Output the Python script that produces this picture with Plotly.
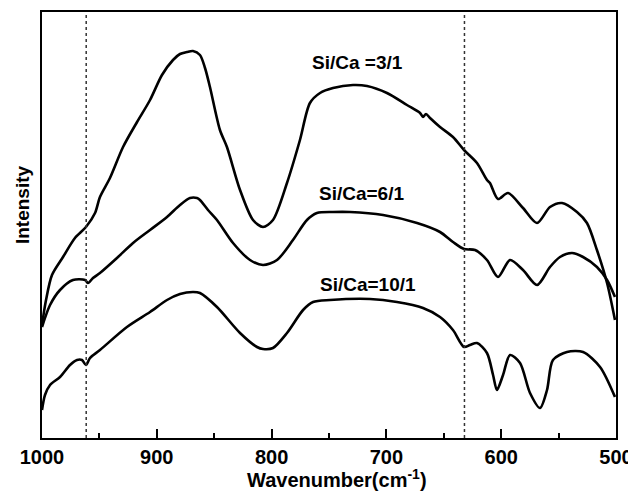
import plotly.graph_objects as go

# Curve Si/Ca = 3/1
wn1 = [1000, 996.5, 991.3, 981.7, 971.3, 961.7, 953.8, 949.5, 940.8, 929.4, 917.2, 905.9, 895.5, 885.9,
       879.8, 873.7, 868.5, 862.4, 858.0, 853.7, 845.0, 838.9, 827.5, 816.2, 807.5, 798.8, 786.6, 775.3,
       766.6, 757.8, 746.5, 729.1, 716.9, 699.5, 682.1, 670.7, 668.1, 665.5, 662.0, 653.3, 642.0, 632.4,
       621.1, 612.4, 609.8, 602.8, 594.1, 581.0, 568.8, 557.5, 547.0, 534.0, 525.3, 516.6, 507.8, 500.9]
i1 = [113, 138, 163, 181, 200, 211, 225, 241, 260, 291, 316, 338, 363, 378,
      384, 386, 387, 383, 370, 351, 308, 291, 248, 218, 211, 218, 255, 298,
      335, 345, 350, 353, 352, 345, 333, 325, 321, 324, 320, 311, 301, 288,
      275, 258, 255, 239, 245, 230, 215, 231, 235, 226, 215, 188, 155, 118]

# Curve Si/Ca = 6/1
wn2 = [1000, 993.0, 984.3, 973.0, 962.5, 959.9, 955.6, 949.5, 934.7, 920.7, 905.9, 891.1, 879.8, 871.1,
       865.0, 862.4, 855.4, 847.6, 833.6, 818.8, 807.5, 795.3, 781.4, 769.2, 760.5, 746.5, 731.7, 702.9,
       673.3, 653.3, 642.0, 632.4, 622.8, 612.4, 602.8, 592.3, 581.0, 568.8, 557.5, 548.8, 538.3, 528.7,
       516.6, 507.8, 500.9]
i2 = [111, 133, 148, 158, 158, 155, 160, 165, 180, 195, 208, 221, 233, 240,
      240, 238, 228, 218, 195, 178, 173, 178, 198, 218, 225, 226, 226, 223,
      215, 206, 196, 189, 188, 178, 161, 178, 168, 153, 171, 181, 185, 181,
      171, 158, 141]

# Curve Si/Ca = 10/1
wn3 = [1000, 997.4, 993.0, 984.3, 975.6, 969.5, 965.2, 961.7, 958.2, 949.5, 926.0, 905.9, 891.1, 879.8,
       868.5, 862.4, 847.6, 827.5, 812.7, 807.5, 798.8, 786.6, 772.6, 763.9, 749.1, 714.3, 690.8, 668.1,
       653.3, 642.0, 632.4, 627.2, 621.1, 612.4, 607.1, 603.7, 598.4, 592.3, 583.6, 574.9, 566.2, 560.1,
       554.9, 542.7, 528.7, 513.9, 500.9]
i3 = [28, 43, 53, 61, 73, 78, 78, 73, 80, 88, 111, 126, 138, 144,
      146, 145, 131, 105, 91, 89, 90, 105, 128, 136, 138, 139, 136, 130,
      121, 108, 91, 93, 95, 85, 63, 48, 63, 83, 75, 45, 30, 48,
      78, 86, 86, 71, 41]

series_names = ["Si/Ca =3/1", "Si/Ca=6/1", "Si/Ca=10/1"]
label_pos_wn = [725.6, 722.1, 716.0]
label_pos_i = [376, 245, 154]
marker_lines = [961.5, 632.0]
x_ticks = [1000, 900, 800, 700, 600, 500]

FONT = "Liberation Sans, Arial, sans-serif"

fig = go.Figure()
for wn, inten, name in zip([wn1, wn2, wn3], [i1, i2, i3], series_names):
    fig.add_trace(go.Scatter(x=wn, y=inten, mode="lines", name=name,
                             line=dict(color="black", width=2.6, shape="spline", smoothing=0.8),
                             showlegend=False))

for xv in marker_lines:
    fig.add_shape(type="line", x0=xv, x1=xv, y0=0, y1=1, xref="x", yref="paper",
                  line=dict(color="#333333", width=1.5, dash="dot"))

for name, xv, yv in zip(series_names, label_pos_wn, label_pos_i):
    fig.add_annotation(x=xv, y=yv, xref="x", yref="y", text=name, showarrow=False,
                       xanchor="center", yanchor="middle",
                       font=dict(family=FONT, size=19, color="black", weight="bold"))

fig.add_annotation(x=0.514, y=-0.096, xref="paper", yref="paper",
                   text="Wavenumber(cm<sup>-1</sup>)", showarrow=False,
                   xanchor="center", yanchor="middle",
                   font=dict(family=FONT, size=20, color="black", weight="bold"))
fig.add_annotation(x=-0.033, y=0.547, xref="paper", yref="paper", text="Intensity",
                   showarrow=False, textangle=-90, xanchor="center", yanchor="middle",
                   font=dict(family=FONT, size=19, color="black", weight="bold"))

# page body has an 8px default margin, so the figure is sized to fit the window
fig.update_layout(
    width=628, height=484,
    margin=dict(l=34, r=20, t=4, b=54, autoexpand=False),
    paper_bgcolor="white", plot_bgcolor="white",
    xaxis=dict(range=[1000, 500], tickvals=x_ticks, ticktext=[str(t) for t in x_ticks],
               ticks="inside", ticklen=9, tickwidth=2, tickcolor="black",
               minor=dict(dtick=50, ticks="inside", ticklen=5, tickwidth=2, tickcolor="black"),
               showline=True, linecolor="black", linewidth=2, mirror=True,
               showgrid=False, zeroline=False, automargin=False,
               tickfont=dict(family=FONT, size=20, color="black", weight="bold")),
    yaxis=dict(range=[0, 426], showticklabels=False, ticks="",
               showline=True, linecolor="black", linewidth=2, mirror=True,
               showgrid=False, zeroline=False, automargin=False),
)

fig.write_html("out.html")
